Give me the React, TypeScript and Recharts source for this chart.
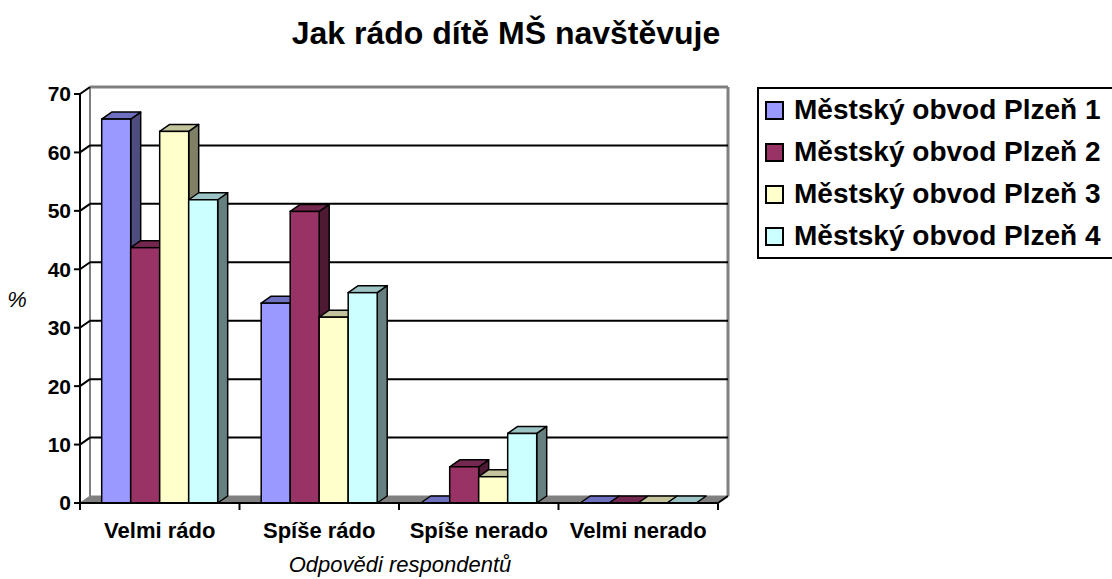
import React from 'react';
import { BarChart, Bar, XAxis, YAxis, CartesianGrid, Legend } from 'recharts';

// ---- data ----
const categories = ['Velmi rádo', 'Spíše rádo', 'Spíše nerado', 'Velmi nerado'];
const seriesNames = [
  'Městský obvod Plzeň 1',
  'Městský obvod Plzeň 2',
  'Městský obvod Plzeň 3',
  'Městský obvod Plzeň 4',
];
const plzen1 = [65.7, 34.2, 0, 0];
const plzen2 = [43.7, 49.9, 6.2, 0];
const plzen3 = [63.6, 31.8, 4.5, 0];
const plzen4 = [51.9, 36.0, 11.9, 0];
const yTicks = [0, 10, 20, 30, 40, 50, 60, 70];
const chartTitle = 'Jak rádo dítě MŠ navštěvuje';
const xTitle = 'Odpovědi respondentů';
const yTitle = '%';

const seriesKeys = ['p1', 'p2', 'p3', 'p4'];
const seriesValues = [plzen1, plzen2, plzen3, plzen4];

const data = categories.map((c, i) => {
  const row: any = { category: c };
  seriesKeys.forEach((k, s) => {
    row[k] = seriesValues[s][i];
  });
  return row;
});

// ---- styles ----
const palette = [
  { front: '#9999FF', top: '#7070C0', side: '#4D4D80' },
  { front: '#993366', top: '#75284F', side: '#4D1933' },
  { front: '#FFFFCC', top: '#C4C49C', side: '#808066' },
  { front: '#CCFFFF', top: '#9CC4C4', side: '#668080' },
];
const DX = 10;
const DY = -7;
const FONT = '"Liberation Sans", Arial, Helvetica, sans-serif';

const makeShape = (c: { front: string; top: string; side: string }) => (props: any) => {
  const x = Number(props.x);
  const y = Number(props.y);
  const w = Number(props.width);
  const h = Math.max(0, Number(props.height) || 0);
  if (!isFinite(x) || !isFinite(y) || !isFinite(w)) return <g />;
  const side = `${x + w},${y} ${x + w + DX},${y + DY} ${x + w + DX},${y + h + DY} ${x + w},${y + h}`;
  const top = `${x},${y} ${x + DX},${y + DY} ${x + w + DX},${y + DY} ${x + w},${y}`;
  return (
    <g>
      {h > 0 && <polygon points={side} fill={c.side} stroke="#000" strokeWidth={1.5} strokeLinejoin="round" />}
      <polygon points={top} fill={c.top} stroke="#000" strokeWidth={1.5} strokeLinejoin="round" />
      {h > 0 && <rect x={x} y={y} width={w} height={h} fill={c.front} stroke="#000" strokeWidth={1.5} />}
    </g>
  );
};

const GridLine = (props: any) => {
  const { x1, x2, y1, index } = props;
  const top = Number(props.y);
  const bottom = Number(props.y) + Number(props.height);
  const isTop = Math.abs(y1 - top) < 0.5;
  const isBottom = Math.abs(y1 - bottom) < 0.5;
  return (
    <g>
      {index === 0 && (
        <g>
          <line x1={x1 + DX} y1={top + DY} x2={x1 + DX} y2={bottom + DY} stroke="#808080" strokeWidth={2} />
          <line x1={x2 + DX} y1={top + DY} x2={x2 + DX} y2={bottom + DY} stroke="#808080" strokeWidth={3} />
          <line x1={x1 + DX} y1={top + DY} x2={x2 + DX} y2={top + DY} stroke="#808080" strokeWidth={3} />
          <polygon
            points={`${x1},${bottom} ${x1 + DX},${bottom + DY} ${x2 + DX},${bottom + DY} ${x2},${bottom}`}
            fill="#808080"
            stroke="#808080"
            strokeWidth={1}
          />
          <line x1={x2} y1={bottom} x2={x2 + DX} y2={bottom + DY} stroke="#000" strokeWidth={2} />
        </g>
      )}
      {!isBottom && !isTop && (
        <line x1={x1 + DX} y1={y1 + DY} x2={x2 + DX} y2={y1 + DY} stroke="#000" strokeWidth={2} />
      )}
      {!isBottom && <line x1={x1} y1={y1} x2={x1 + DX} y2={y1 + DY} stroke="#000" strokeWidth={2} />}
    </g>
  );
};

const XTick = (props: any) => {
  const { x, y, payload, index, visibleTicksCount } = props;
  const off = payload && payload.offset != null ? payload.offset : 0;
  const last = index === (visibleTicksCount ?? categories.length) - 1;
  return (
    <g>
      <line x1={x - off} y1={y} x2={x - off} y2={y + 7} stroke="#000" strokeWidth={2} />
      {last && <line x1={x + off} y1={y} x2={x + off} y2={y + 7} stroke="#000" strokeWidth={2} />}
      <text x={x} y={y + 35} textAnchor="middle" fontFamily={FONT} fontWeight="bold" fontSize={22} fill="#000">
        {payload.value}
      </text>
    </g>
  );
};

const LegendBox = () => (
  <div
    style={{
      border: '2px solid #000',
      background: '#fff',
      width: 380,
      boxSizing: 'content-box',
      fontFamily: FONT,
    }}
  >
    {seriesNames.map((n, i) => (
      <div key={n} style={{ height: 42, display: 'flex', alignItems: 'center' }}>
        <div
          style={{
            width: 15,
            height: 15,
            marginLeft: 6,
            marginRight: 10,
            border: '2px solid #000',
            background: palette[i].front,
          }}
        />
        <span style={{ fontWeight: 'bold', fontSize: 28, color: '#000', whiteSpace: 'nowrap' }}>{n}</span>
      </div>
    ))}
  </div>
);

export default function App() {
  return (
    <div
      style={{
        position: 'fixed',
        left: 0,
        top: 0,
        width: 1112,
        height: 579,
        overflow: 'hidden',
        background: '#fff',
      }}
    >
      <BarChart
        width={1112}
        height={579}
        data={data}
        margin={{ top: 94, right: 394, left: 20, bottom: 46 }}
        barCategoryGap="13.6%"
        barGap={0}
      >
        <CartesianGrid vertical={false} horizontal={GridLine as any} />
        <XAxis
          dataKey="category"
          height={30}
          tickLine={false}
          tickSize={0}
          tickMargin={0}
          axisLine={{ stroke: '#000', strokeWidth: 2 }}
          tick={<XTick />}
          interval={0}
        />
        <YAxis
          width={60}
          domain={[0, 70]}
          ticks={yTicks}
          interval={0}
          tickSize={6}
          tickMargin={3}
          axisLine={{ stroke: '#000', strokeWidth: 2 }}
          tickLine={{ stroke: '#000', strokeWidth: 2 }}
          tick={{ fontFamily: FONT, fontWeight: 'bold', fontSize: 21, fill: '#000' }}
        />
        <Legend
          layout="vertical"
          align="center"
          verticalAlign="middle"
          wrapperStyle={{ left: 757, top: 87, width: 390 }}
          content={<LegendBox />}
        />
        {seriesKeys.map((k, i) => (
          <Bar
            key={k}
            dataKey={k}
            name={seriesNames[i]}
            fill={palette[i].front}
            isAnimationActive={false}
            shape={makeShape(palette[i])}
          />
        ))}
      </BarChart>
      <svg
        width={1112}
        height={579}
        style={{ position: 'absolute', left: 0, top: 0, pointerEvents: 'none' }}
      >
        <text x={506} y={44} textAnchor="middle" fontFamily={FONT} fontWeight="bold" fontSize={32} fill="#000">
          {chartTitle}
        </text>
        <text x={400} y={572} textAnchor="middle" fontFamily={FONT} fontStyle="italic" fontSize={22} fill="#000">
          {xTitle}
        </text>
        <text x={17} y={307} textAnchor="middle" fontFamily={FONT} fontStyle="italic" fontSize={22} fill="#000">
          {yTitle}
        </text>
      </svg>
    </div>
  );
}
